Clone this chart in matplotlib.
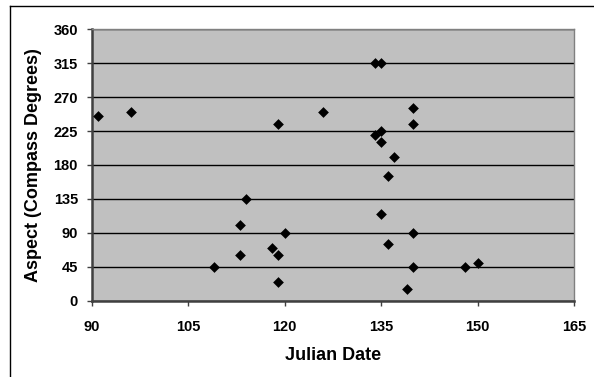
import matplotlib
matplotlib.use("Agg")
import matplotlib.pyplot as plt
from matplotlib.lines import Line2D

julian_date = [91, 96, 109, 113, 113, 114, 118, 119, 119, 119, 120, 126,
               134, 135, 140, 140, 135, 134, 135, 137, 136, 135, 140, 136,
               140, 139, 148, 150]
aspect = [245, 250, 45, 100, 60, 135, 70, 60, 25, 235, 90, 250,
          315, 315, 255, 235, 225, 220, 210, 190, 165, 115, 90, 75,
          45, 15, 45, 50]
x_ticks = [90, 105, 120, 135, 150, 165]
y_ticks = [0, 45, 90, 135, 180, 225, 270, 315, 360]

plt.rcParams['font.family'] = ['Liberation Sans', 'DejaVu Sans']

fig = plt.figure(figsize=(5.94, 3.77), dpi=100)
ax = fig.add_axes([92/594, 1-300.7/377, (574-92)/594, (300.7-29.3)/377])
ax.set_facecolor('#C0C0C0')

ax.scatter(julian_date, aspect, marker='D', s=30, color='black', zorder=3, linewidths=0)

ax.set_xlim(90, 165)
ax.set_ylim(0, 360)
ax.set_xticks(x_ticks)
ax.set_yticks(y_ticks)
ax.set_xticklabels([str(v) for v in x_ticks], fontsize=10.5, fontweight='bold')
ax.set_yticklabels([str(v) for v in y_ticks], fontsize=10.5, fontweight='bold')
ax.yaxis.grid(True, color='black', linewidth=1)
ax.set_axisbelow(True)
ax.tick_params(axis='both', direction='out', length=3.6, width=1, color='#404040')
ax.tick_params(axis='x', pad=10)
ax.tick_params(axis='y', pad=6.5)

for side in ['top', 'right']:
    ax.spines[side].set_color('#808080')
    ax.spines[side].set_linewidth(1)
for side in ['left', 'bottom']:
    ax.spines[side].set_color('#404040')
    ax.spines[side].set_linewidth(1.8)

ax.set_xlabel('Julian Date', fontsize=13, fontweight='bold', labelpad=10)
ax.set_ylabel('Aspect (Compass Degrees)', fontsize=13, fontweight='bold', labelpad=8)

# outer chart border (left and top visible)
fig.add_artist(Line2D([9.5/594, 9.5/594], [0, 1-6/377], transform=fig.transFigure, color='black', linewidth=1))
fig.add_artist(Line2D([9.5/594, 1], [1-6/377, 1-6/377], transform=fig.transFigure, color='black', linewidth=1))

fig.savefig('out.png', dpi=100)
